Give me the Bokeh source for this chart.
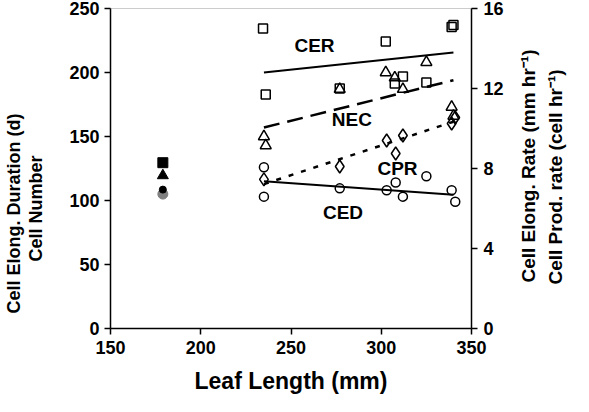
import math
from bokeh.plotting import figure
from bokeh.models import Range1d, LinearAxis, Label, FixedTicker
from bokeh.embed import file_html
from bokeh.resources import INLINE

# ---------------- data ----------------
x_ticks = [150, 200, 250, 300, 350]
left_ticks = [0, 50, 100, 150, 200, 250]
right_ticks = [0, 4, 8, 12, 16]

# Cell elongation duration (d) -- left axis, open circles
ced_x = [235, 235, 277, 303, 308, 312, 325, 339, 341]
ced_y = [126, 103, 109.5, 108, 114, 103, 119, 108, 99]

# Cell number -- left axis, open triangles
nec_x = [235, 236, 277, 302.5, 307.5, 312, 325, 339, 340]
nec_y = [150, 143, 187, 200, 196, 187, 208, 173, 166]

# Cell elongation rate (mm/hr) -- right axis, open squares
cer_x = [234.5, 236, 277, 302.5, 307.5, 312, 325, 339, 340]
cer_y = [15.0, 11.7, 12.0, 14.35, 12.25, 12.6, 12.3, 15.07, 15.17]

# Cell production rate (cell/hr) -- right axis, open diamonds
cpr_x = [235, 277, 303, 308, 312, 339, 341]
cpr_y = [7.46, 8.1, 9.4, 8.75, 9.65, 10.25, 10.55]

# fitted lines (end points)
fit_x = [235, 340]
cer_fit = [12.8, 13.8]
nec_fit = [157, 194]
cpr_fit = [7.22, 10.34]
ced_fit = [115, 104.5]

# short leaf (filled markers)
short_x = [179]
short_cer = [8.29]   # right axis
short_nec = [119.5]  # left axis
short_ced = [108.5]  # left axis
short_cpr = [6.72]   # right axis (grey)

FONT = "Liberation Sans"
NB = "\u00a0"

p = figure(width=581, height=400,
           x_range=Range1d(150, 350), y_range=Range1d(0, 250),
           output_backend="svg", toolbar_location=None,
           min_border_left=103, min_border_right=110,
           min_border_top=8, min_border_bottom=72)
p.extra_y_ranges = {"rate": Range1d(0, 16)}

right_axis = LinearAxis(y_range_name="rate")
p.add_layout(right_axis, "right")

p.xgrid.visible = False
p.ygrid.visible = False
p.outline_line_color = "#cccccc"
p.outline_line_width = 1

p.xaxis.ticker = FixedTicker(ticks=x_ticks)
p.yaxis[0].ticker = FixedTicker(ticks=left_ticks)
right_axis.ticker = FixedTicker(ticks=right_ticks)


def style_axis(ax):
    ax.axis_line_width = 1.5
    ax.axis_line_color = "black"
    ax.major_tick_line_width = 1.5
    ax.major_tick_line_color = "black"
    ax.major_tick_in = 0
    ax.major_tick_out = 6
    ax.minor_tick_in = 0
    ax.minor_tick_out = 0
    ax.major_label_text_font = FONT
    ax.major_label_text_font_style = "bold"
    ax.major_label_text_font_size = "18px"
    ax.major_label_text_color = "black"
    ax.major_label_standoff = 5
    ax.axis_label_text_font = FONT
    ax.axis_label_text_font_style = "bold"
    ax.axis_label_text_color = "black"
    ax.axis_label_text_font_size = "18px"


for ax in [p.xaxis[0], p.yaxis[0], right_axis]:
    style_axis(ax)

# bottom title
p.xaxis[0].axis_label = "Leaf Length (mm)"
p.xaxis[0].axis_label_text_font_size = "23px"
p.xaxis[0].major_label_standoff = 6
p.xaxis[0].axis_label_standoff = 11


def blank_axis(side, y_range_name="default", ticks=(), overrides=None):
    ax = LinearAxis(y_range_name=y_range_name, ticker=FixedTicker(ticks=list(ticks)))
    if overrides:
        ax.major_label_overrides = overrides
    ax.axis_line_color = None
    ax.major_tick_line_color = None
    ax.minor_tick_line_color = None
    ax.major_tick_out = 0
    ax.major_tick_in = 0
    ax.minor_tick_out = 0
    ax.minor_tick_in = 0
    ax.major_label_standoff = 0
    ax.axis_label_standoff = 0
    for pre in ("major_label", "axis_label"):
        setattr(ax, pre + "_text_font", FONT)
        setattr(ax, pre + "_text_font_style", "bold")
        setattr(ax, pre + "_text_color", "black")
    p.add_layout(ax, side)
    return ax


# left titles: two stacked axis labels, padded so they sit low like the reference
p.yaxis[0].axis_label = "Cell Number" + NB * 16
p.yaxis[0].axis_label_standoff = 20
outer_left = blank_axis("left")
outer_left.axis_label = "Cell Elong. Duration (d)" + NB * 18
outer_left.axis_label_text_font_size = "18px"

# right titles: single-tick label axes, text reading bottom-to-top
right_axis.major_label_standoff = 6
r1_pos, r2_pos = 2.3, 2.2
r1 = blank_axis("right", "rate", [r1_pos],
                {r1_pos: "Cell Elong. Rate (mm hr\u207b\u00b9)"})
r1.major_label_orientation = math.pi / 2
r1.major_label_standoff = 22
r1.major_label_text_font_size = "19px"
r2 = blank_axis("right", "rate", [r2_pos],
                {r2_pos: "Cell Prod. rate (cell hr\u207b\u00b9)"})
r2.major_label_orientation = math.pi / 2
r2.major_label_standoff = 3
r2.major_label_text_font_size = "19px"

# fitted lines
p.line(fit_x, cer_fit, y_range_name="rate", line_color="black", line_width=2)
p.line(fit_x, nec_fit, line_color="black", line_width=2.5, line_dash="16 8")
p.line(fit_x, cpr_fit, y_range_name="rate", line_color="black", line_width=2.5, line_dash="5 8")
p.line(fit_x, ced_fit, line_color="black", line_width=2)

# open markers
p.scatter(cer_x, cer_y, y_range_name="rate", marker="square", size=9,
          fill_color=None, line_color="black", line_width=1.5)
p.scatter(nec_x, nec_y, marker="triangle", size=11,
          fill_color=None, line_color="black", line_width=1.5)
p.scatter(cpr_x, cpr_y, y_range_name="rate", marker="diamond", size=13,
          fill_color=None, line_color="black", line_width=1.5)
p.scatter(ced_x, ced_y, marker="circle", size=9,
          fill_color=None, line_color="black", line_width=1.5)

# filled markers (short leaf)
p.scatter(short_x, short_cpr, y_range_name="rate", marker="circle", size=10,
          fill_color="#808080", line_color="#808080")
p.scatter(short_x, short_ced, marker="circle", size=7,
          fill_color="black", line_color="black")
p.scatter(short_x, short_nec, marker="triangle", size=11,
          fill_color="black", line_color="black")
p.scatter(short_x, short_cer, y_range_name="rate", marker="square", size=10,
          fill_color="black", line_color="black")


def lab(x, y, text, size):
    p.add_layout(Label(x=x, y=y, text=text, text_align="center",
                       text_baseline="middle", text_font=FONT,
                       text_font_style="bold", text_font_size=size,
                       text_color="black"))


lab(263, 221, "CER", "19px")
lab(283.7, 163.3, "NEC", "19px")
lab(309, 125, "CPR", "19px")
lab(278.8, 91, "CED", "19px")

open("out.html", "w").write(file_html(p, INLINE))
